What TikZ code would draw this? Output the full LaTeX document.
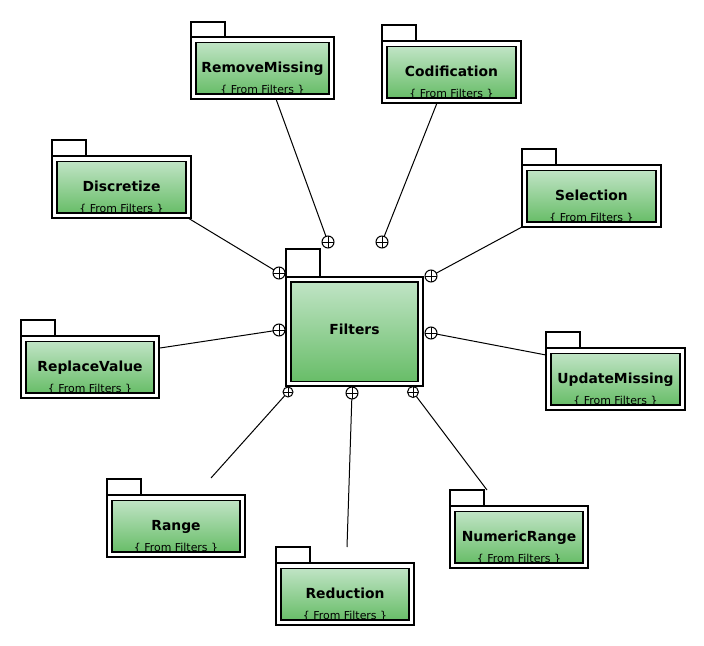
\documentclass[tikz,border=0pt]{standalone}
\usepackage{fontspec}
\setmainfont{DejaVu Sans}
\definecolor{gtop}{RGB}{192,228,197}
\definecolor{gbot}{RGB}{104,189,104}
\newcommand\pkg[6]{%
  \draw[pkgline] (#2,#3) rectangle ++(34,-#5);
  \node[pkgbody, minimum width=#4*0.75pt, minimum height=62*0.75pt] (#1) at (#2+#4/2, #3+31) {};
  \node[pkginner, minimum width=(#4-10)*0.75pt, minimum height=51.5*0.75pt] (#1in) at (#2+#4/2, #3+31.2) {};
  \node[title] (#1t) at (#2+#4/2, #3+35) {#6};
  \node[from] (#1f) at (#2+#4/2, #3+56) {\{ From Filters \}};
}
\begin{document}
\begin{tikzpicture}[x=0.75pt,y=-0.75pt,
  pkgline/.style={draw=black,line width=1.1pt},
  pkgbody/.style={draw=black,line width=1.1pt,fill=white,rectangle,inner sep=0pt,outer sep=0pt},
  pkginner/.style={draw=black,line width=0.9pt,rectangle,top color=gtop,bottom color=gbot,inner sep=0pt,outer sep=0pt},
  title/.style={font=\fontsize{10.4}{12}\selectfont\bfseries,anchor=base,inner sep=0pt},
  from/.style={font=\fontsize{8.2}{10}\selectfont,anchor=base,inner sep=0pt},
  port/.style={circle,draw,line width=0.75pt,fill=white,inner sep=0pt,outer sep=0pt,
    path picture={\draw[line width=0.75pt] (path picture bounding box.north)--(path picture bounding box.south) (path picture bounding box.west)--(path picture bounding box.east);}},
  conn/.style={line width=0.75pt}]
\useasboundingbox[fill=white] (0,0) rectangle (704,646);

% central package
\draw[pkgline] (286,277) rectangle (320,249);
\node[pkgbody, minimum width=137*0.75pt, minimum height=109*0.75pt] (filt) at (354.5,331.5) {};
\node[pkginner, minimum width=127*0.75pt, minimum height=99.5*0.75pt] (filtin) at (354.5,331.7) {};
\node[title] (filtt) at (354.5,334) {Filters};

% packages
\pkg{rm}{191}{37}{143}{15}{RemoveMissing}
\pkg{cod}{382}{41}{139}{16}{Codification}
\pkg{disc}{52}{156}{139}{16}{Discretize}
\pkg{sel}{522}{165}{139}{16}{Selection}
\pkg{rv}{21}{336}{138}{16}{ReplaceValue}
\pkg{um}{546}{348}{139}{16}{UpdateMissing}
\pkg{rng}{107}{495}{138}{16}{Range}
\pkg{red}{276}{563}{138}{16}{Reduction}
\pkg{nr}{450}{506}{138}{16}{NumericRange}

% ports
\node[port, minimum size=12*0.75pt] (p1) at (328,242) {};
\node[port, minimum size=12*0.75pt] (p2) at (382,242) {};
\node[port, minimum size=12*0.75pt] (p3) at (279,273) {};
\node[port, minimum size=12*0.75pt] (p4) at (431,276) {};
\node[port, minimum size=12*0.75pt] (p5) at (279,330) {};
\node[port, minimum size=12*0.75pt] (p6) at (431,333) {};
\node[port, minimum size=10*0.75pt] (p7) at (288,392) {};
\node[port, minimum size=12*0.75pt] (p8) at (352,393) {};
\node[port, minimum size=11*0.75pt] (p9) at (413,392) {};

% connector ends
\coordinate (e1) at (276,99);
\coordinate (e2) at (437,103);
\coordinate (e3) at (188,218);
\coordinate (e4) at (522,227);
\coordinate (e5) at (160,348);
\coordinate (e6) at (546,355);
\coordinate (e7) at (211,478);
\coordinate (e8) at (347,547);
\coordinate (e9) at (487,490);

\draw[conn] (e1) -- (p1);
\draw[conn] (e2) -- (p2);
\draw[conn] (e3) -- (p3);
\draw[conn] (e4) -- (p4);
\draw[conn] (e5) -- (p5);
\draw[conn] (e6) -- (p6);
\draw[conn] (e7) -- (p7);
\draw[conn] (e8) -- (p8);
\draw[conn] (e9) -- (p9);
\end{tikzpicture}
\end{document}
